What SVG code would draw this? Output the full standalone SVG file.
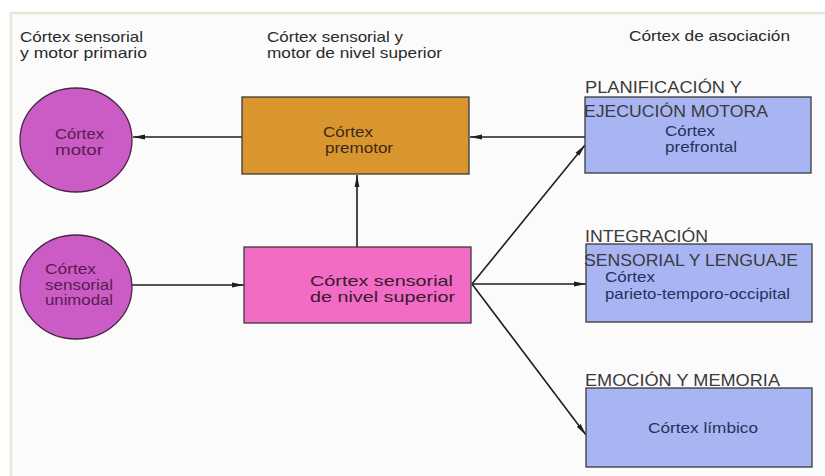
<svg xmlns="http://www.w3.org/2000/svg" width="825" height="476" viewBox="0 0 825 476">
<style>
text{font-family:"Liberation Sans",Arial,sans-serif}
.hdr{font-size:14.5px;fill:#2a2a2a}
.sec{font-size:17px;fill:#3a3a3a}
.nt{font-size:14.5px}
.ct{fill:#5a1b52}
.ot{fill:#3a2a1a}
.pt{fill:#3a1a30}
.bt{fill:#26305e}
.circ{fill:#CB5CC6;stroke:#4a2646;stroke-width:1.3}
.box{stroke:#3a3a3a;stroke-width:1.3}
.ln{stroke:#1e1e1e;stroke-width:1.6;fill:none;marker-end:url(#ah)}
</style>
<defs>
<marker id="ah" viewBox="0 0 12 6" refX="12" refY="3" markerWidth="12" markerHeight="6" markerUnits="userSpaceOnUse" orient="auto">
<path d="M0,0.6 L12,3 L0,5.4 z" fill="#1e1e1e"/>
</marker>
</defs>
<rect x="0" y="0" width="825" height="476" fill="#ffffff"/>
<rect x="10" y="12" width="815" height="464" fill="#fbfbfb"/>
<line x1="10" y1="13" x2="825" y2="13" stroke="#e2e9d4" stroke-width="2.5"/>
<line x1="11" y1="12" x2="11" y2="476" stroke="#e2ecd8" stroke-width="2.5"/>

<g id="headers">
<text class="hdr" x="20" y="42" textLength="123" lengthAdjust="spacingAndGlyphs">Córtex sensorial</text>
<text class="hdr" x="20" y="58" textLength="127" lengthAdjust="spacingAndGlyphs">y  motor primario</text>
<text class="hdr" x="267" y="42" textLength="136" lengthAdjust="spacingAndGlyphs">Córtex sensorial y</text>
<text class="hdr" x="267" y="58" textLength="175" lengthAdjust="spacingAndGlyphs">motor de nivel superior</text>
<text class="hdr" x="629" y="41" textLength="161" lengthAdjust="spacingAndGlyphs">Córtex de asociación</text>
</g>

<g id="connectors">
<line class="ln" x1="242" y1="137" x2="133" y2="137"/>
<line class="ln" x1="585" y1="137" x2="470" y2="137"/>
<line class="ln" x1="357" y1="247" x2="357" y2="175"/>
<line class="ln" x1="132" y1="285" x2="244" y2="285"/>
<line class="ln" x1="472" y1="284" x2="585" y2="145"/>
<line class="ln" x1="472" y1="284" x2="586" y2="284"/>
<line class="ln" x1="472" y1="284" x2="586" y2="435"/>
</g>

<g id="cortex-motor">
<ellipse class="circ" cx="76" cy="140" rx="56" ry="52"/>
<text class="nt ct" x="55" y="139" textLength="49" lengthAdjust="spacingAndGlyphs">Córtex</text>
<text class="nt ct" x="55" y="155" textLength="48" lengthAdjust="spacingAndGlyphs">motor</text>
</g>

<g id="cortex-sensorial-unimodal">
<ellipse class="circ" cx="76" cy="287" rx="56" ry="52"/>
<text class="nt ct" x="45" y="274" textLength="51" lengthAdjust="spacingAndGlyphs">Córtex</text>
<text class="nt ct" x="45" y="290" textLength="68" lengthAdjust="spacingAndGlyphs">sensorial</text>
<text class="nt ct" x="45" y="305" textLength="68" lengthAdjust="spacingAndGlyphs">unimodal</text>
</g>

<g id="cortex-premotor">
<rect class="box" x="242" y="97" width="227" height="77" fill="#D9962F"/>
<text class="nt ot" x="323" y="137" textLength="50" lengthAdjust="spacingAndGlyphs">Córtex</text>
<text class="nt ot" x="325" y="153" textLength="68" lengthAdjust="spacingAndGlyphs">premotor</text>
</g>

<g id="cortex-sensorial-superior">
<rect class="box" x="244" y="247" width="227" height="76" fill="#F26BC4"/>
<text class="nt pt" x="310" y="286" textLength="143" lengthAdjust="spacingAndGlyphs">Córtex sensorial</text>
<text class="nt pt" x="310" y="302" textLength="145" lengthAdjust="spacingAndGlyphs">de nivel superior</text>
</g>

<g id="cortex-prefrontal">
<rect class="box" x="585" y="97" width="226" height="76" fill="#A8B5F2"/>
<text class="sec" x="585" y="93" textLength="157" lengthAdjust="spacingAndGlyphs">PLANIFICACIÓN Y</text>
<text class="sec" x="584" y="117" textLength="184" lengthAdjust="spacingAndGlyphs">EJECUCIÓN MOTORA</text>
<text class="nt bt" x="665" y="136" textLength="50" lengthAdjust="spacingAndGlyphs">Córtex</text>
<text class="nt bt" x="665" y="152" textLength="72" lengthAdjust="spacingAndGlyphs">prefrontal</text>
</g>

<g id="cortex-parieto">
<rect class="box" x="586" y="244" width="226" height="78" fill="#A8B5F2"/>
<text class="sec" x="585" y="242" textLength="123" lengthAdjust="spacingAndGlyphs">INTEGRACIÓN</text>
<text class="sec" x="584" y="266" textLength="214" lengthAdjust="spacingAndGlyphs">SENSORIAL Y LENGUAJE</text>
<text class="nt bt" x="605" y="282" textLength="50" lengthAdjust="spacingAndGlyphs">Córtex</text>
<text class="nt bt" x="605" y="299" textLength="185" lengthAdjust="spacingAndGlyphs">parieto-temporo-occipital</text>
</g>

<g id="cortex-limbico">
<rect class="box" x="586" y="388" width="226" height="79" fill="#A8B5F2"/>
<text class="sec" x="585" y="386" textLength="195" lengthAdjust="spacingAndGlyphs">EMOCIÓN Y MEMORIA</text>
<text class="nt bt" x="648" y="433" textLength="110" lengthAdjust="spacingAndGlyphs">Córtex límbico</text>
</g>
</svg>
